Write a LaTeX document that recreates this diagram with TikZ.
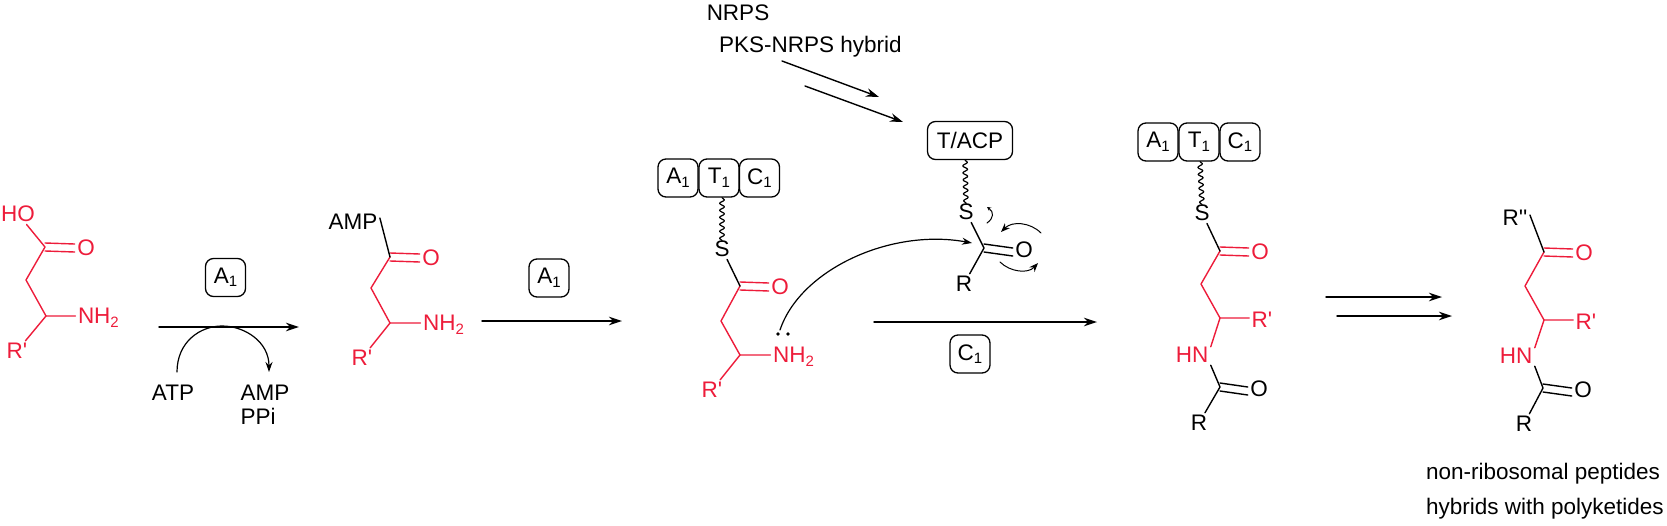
\documentclass[tikz,border=0pt]{standalone}
\usepackage{fontspec}
\setmainfont{Liberation Sans}
\usetikzlibrary{decorations.pathmorphing, arrows.meta}
\definecolor{chemred}{RGB}{237,28,58}
\newcommand{\idx}[1]{\raisebox{-3.5pt}{\fontsize{15}{15}\selectfont #1}}
\newcommand{\prm}{\textquotesingle}
\tikzset{
  module/.style={draw, rounded corners=8pt, minimum width=40pt, minimum height=38pt, inner sep=0pt, line width=1.3pt, font=\fontsize{22.5}{24}\selectfont},
  atom/.style={inner sep=0pt, outer sep=2.5pt, font=\fontsize{22.5}{24}\selectfont},
  bond/.style={line width=1.4pt},
  wavy/.style={line width=1.2pt, decorate, decoration={snake, amplitude=2.4pt, segment length=7pt}},
  rxn/.style={-{Stealth[length=13pt, width=8.5pt]}, line width=1.4pt},
  push/.style={-{Stealth[length=10pt, width=7pt]}, line width=1.2pt},
  tinypush/.style={-{Stealth[length=9pt, width=7pt]}, line width=1pt},
  halfpush/.style={-{Stealth[length=4pt, width=4pt]}, line width=1pt},
}
\begin{document}
\begin{tikzpicture}[x=1pt, y=-1pt, line cap=round, line join=round]
  \useasboundingbox (0,0) rectangle (1667,525);

  % Free amino acid
  \begin{scope}[chemred]
    \node[atom] (ho) at (18,214) {HO};
    \node[atom] (o1) at (86,248) {O};
    \node[atom, anchor=west] (n1) at (75.5,318) {NH\idx{2}};
    \node[atom] (r1) at (17,351) {R\prm};
    \coordinate (c1) at (45,247);
    \coordinate (a1) at (26,280);
    \coordinate (b1) at (46,316);
    \draw[bond] (ho) -- (c1) -- (a1) -- (b1) -- (b1 -| n1.west);
    \draw[bond] (b1) -- (r1);
    \draw[bond] ([yshift=-4pt]c1) -- ([yshift=-4pt]o1.west);
    \draw[bond] ([yshift=4pt]c1) -- ([yshift=4pt]o1.west);
  \end{scope}

  % Adenylation arrow
  \node[module] (m1) at (225.5,277.5) {A\idx{1}};
  \coordinate (s1) at (159,327);
  \coordinate (e1) at (299,327);
  \draw[rxn] (s1) -- (e1);
  \node[atom] (atp) at (173,393) {ATP};
  \node[atom, anchor=west] (amp) at (238,393) {AMP};
  \node[atom, anchor=west] (ppi) at (238,416) {PPi};
  \coordinate (t1) at (177,372);
  \coordinate (t2) at (269,372);
  \draw[push] (t1) .. controls (177,342) and (200,326) .. (222,326) .. controls (245,326) and (269,342) .. (t2);

  % Acyl adenylate
  \node[atom] (amp2) at (353,222) {AMP};
  \begin{scope}[chemred]
    \node[atom] (o2) at (431,258) {O};
    \node[atom, anchor=west] (n2) at (420.5,325) {NH\idx{2}};
    \node[atom] (r2) at (362,358) {R\prm};
    \coordinate (c2) at (390,257);
    \coordinate (a2) at (371,288);
    \coordinate (b2) at (390,323);
    \draw[bond] (c2) -- (a2) -- (b2) -- (b2 -| n2.west);
    \draw[bond] (b2) -- (r2);
    \draw[bond] ([yshift=-4pt]c2) -- ([yshift=-4pt]o2.west);
    \draw[bond] ([yshift=4pt]c2) -- ([yshift=4pt]o2.west);
  \end{scope}
  \draw[bond] ([yshift=4pt]amp2.east) -- (c2);

  % Loading arrow
  \node[module] (m2) at (549,278) {A\idx{1}};
  \coordinate (s2) at (482,321);
  \coordinate (e2) at (622,321);
  \draw[rxn] (s2) -- (e2);

  % Thioester on T1
  \node[module] (a3) at (678,178) {A\idx{1}};
  \node[module] (t3) at (719,178) {T\idx{1}};
  \node[module] (d3) at (759.5,178) {C\idx{1}};
  \node[atom] (s3) at (722,249) {S};
  \draw[wavy] ([xshift=3pt]t3.south) -- ([yshift=-3pt]s3.north);
  \begin{scope}[chemred]
    \node[atom] (o3) at (780,287) {O};
    \node[atom, anchor=west] (n3) at (770.5,357) {NH\idx{2}};
    \node[atom] (r3) at (712,390) {R\prm};
    \coordinate (c3) at (740,286);
    \coordinate (a3b) at (721,321);
    \coordinate (b3) at (740,355);
    \draw[bond] (c3) -- (a3b) -- (b3) -- (b3 -| n3.west);
    \draw[bond] (b3) -- (r3);
    \draw[bond] ([yshift=-4pt]c3) -- ([yshift=-4pt]o3.west);
    \draw[bond] ([yshift=4pt]c3) -- ([yshift=4pt]o3.west);
  \end{scope}
  \draw[bond] (s3) -- (c3);
  \fill (778,334) circle (1.8pt) (788,334) circle (1.8pt);

  % Upstream carrier
  \node[atom] (nrps) at (738,12.5) {NRPS};
  \node[atom, anchor=west] (hyb) at (716.5,47) {PKS-NRPS hybrid};
  \coordinate (u1) at (782,61);
  \coordinate (u2) at (879,97);
  \coordinate (v1) at (805,86);
  \coordinate (v2) at (903,122);
  \draw[rxn] (u1) -- (u2);
  \draw[rxn] (v1) -- (v2);
  \node[module, minimum width=85pt] (acp) at (970,140.5) {T/ACP};
  \node[atom] (s4) at (966,212) {S};
  \draw[wavy] ([xshift=-5pt]acp.south) -- ([yshift=-3pt]s4.north);
  \coordinate (c4) at (984,248);
  \node[atom] (o4) at (1024,250) {O};
  \node[atom] (r4) at (964,284) {R};
  \draw[bond] (s4) -- (c4) -- (r4);
  \draw[bond] ([yshift=-4pt]c4) -- ([yshift=-6pt]o4.west);
  \draw[bond] ([yshift=4pt]c4) -- ([yshift=2pt]o4.west);

  % Electron pushing
  \coordinate (lp) at (780,330);
  \coordinate (hit) at (972,243);
  \draw[push] (lp) .. controls (800,270) and (890,228) .. (hit);
  \draw[halfpush] (987,223) .. controls (994,218) and (994,212) .. (987,207);
  \draw[tinypush] (1041,233) .. controls (1030,222) and (1012,221) .. (1001,232);
  \draw[tinypush] (1000,262) .. controls (1010,272) and (1028,274) .. (1038,263);

  % Condensation arrow
  \coordinate (s5) at (874,322);
  \coordinate (e5) at (1097,322);
  \draw[rxn] (s5) -- (e5);
  \node[module] (m5) at (970,354) {C\idx{1}};

  % Amide on T1
  \node[module] (a6) at (1158,142) {A\idx{1}};
  \node[module] (t6) at (1199,142) {T\idx{1}};
  \node[module] (d6) at (1240,142) {C\idx{1}};
  \node[atom] (s6) at (1202,213) {S};
  \draw[wavy] ([xshift=1pt]t6.south) -- ([yshift=-3pt]s6.north);
  \begin{scope}[chemred]
    \node[atom] (o6) at (1260,252) {O};
    \node[atom] (p6) at (1262,320) {R\prm};
    \node[atom] (n6) at (1192,355) {HN};
    \coordinate (c6) at (1220,251);
    \coordinate (a6b) at (1201,284);
    \coordinate (b6) at (1220,318);
    \draw[bond] (c6) -- (a6b) -- (b6) -- (b6 -| p6.west);
    \draw[bond] (b6) -- ([yshift=-2pt]n6.north east);
    \draw[bond] ([yshift=-4pt]c6) -- ([yshift=-4pt]o6.west);
    \draw[bond] ([yshift=4pt]c6) -- ([yshift=4pt]o6.west);
  \end{scope}
  \draw[bond] (s6) -- (c6);
  \coordinate (k6) at (1220,387);
  \node[atom] (q6) at (1259,389) {O};
  \node[atom] (r6) at (1199,423) {R};
  \draw[bond] (n6.south east) -- (k6) -- (r6);
  \draw[bond] ([yshift=-4pt]k6) -- ([yshift=-6pt]q6.west);
  \draw[bond] ([yshift=4pt]k6) -- ([yshift=2pt]q6.west);

  % Elongation arrows
  \coordinate (w1) at (1326,297);
  \coordinate (w2) at (1442,297);
  \coordinate (z1) at (1337,316);
  \coordinate (z2) at (1452,316);
  \draw[rxn] (w1) -- (w2);
  \draw[rxn] (z1) -- (z2);

  % Product
  \node[atom] (rr) at (1515,218) {R\prm\prm};
  \begin{scope}[chemred]
    \node[atom] (o7) at (1584,253) {O};
    \node[atom] (p7) at (1586,322) {R\prm};
    \node[atom] (n7) at (1516,356) {HN};
    \coordinate (c7) at (1544,252);
    \coordinate (a7) at (1525,286);
    \coordinate (b7) at (1544,320);
    \draw[bond] (c7) -- (a7) -- (b7) -- (b7 -| p7.west);
    \draw[bond] (b7) -- ([yshift=-2pt]n7.north east);
    \draw[bond] ([yshift=-4pt]c7) -- ([yshift=-4pt]o7.west);
    \draw[bond] ([yshift=4pt]c7) -- ([yshift=4pt]o7.west);
  \end{scope}
  \draw[bond] ([yshift=3pt]rr.east) -- (c7);
  \coordinate (k7) at (1543,388);
  \node[atom] (q7) at (1583,390) {O};
  \node[atom] (r7) at (1524,424) {R};
  \draw[bond] (n7.south east) -- (k7) -- (r7);
  \draw[bond] ([yshift=-4pt]k7) -- ([yshift=-6pt]q7.west);
  \draw[bond] ([yshift=4pt]k7) -- ([yshift=2pt]q7.west);

  % Product classes
  \node[atom, anchor=west] (np) at (1423.5,474) {non-ribosomal peptides};
  \node[atom, anchor=west] (hp) at (1423.5,509) {hybrids with polyketides};
\end{tikzpicture}
\end{document}
